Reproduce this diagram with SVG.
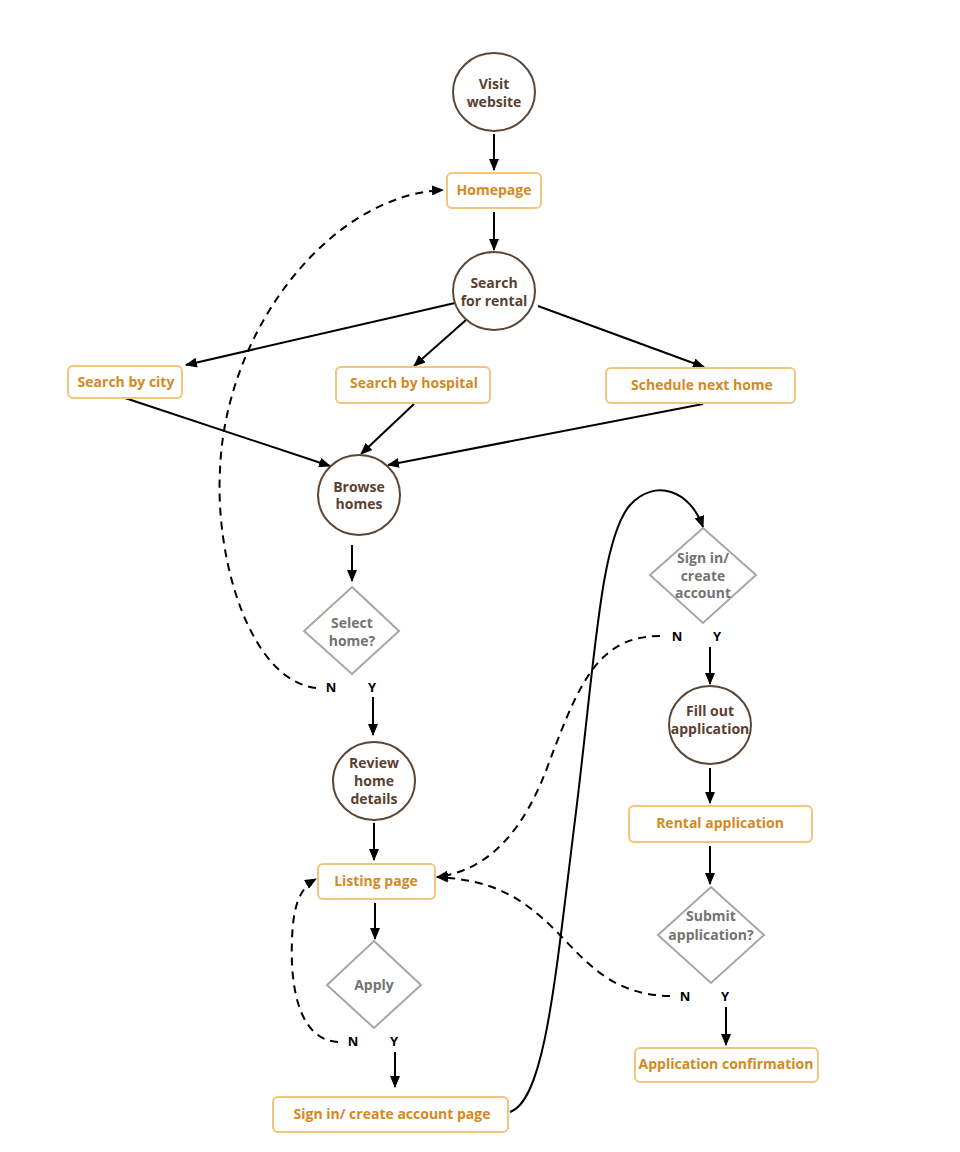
<svg xmlns="http://www.w3.org/2000/svg" width="960" height="1152" viewBox="0 0 960 1152">
<defs>
<marker id="arr" viewBox="0 0 12 10" refX="11" refY="5" markerWidth="12" markerHeight="10" markerUnits="userSpaceOnUse" orient="auto">
<path d="M0,0 L12,5 L0,10 z" fill="#000"/>
</marker>
<style>
.c{fill:#fff;stroke:#5b4636;stroke-width:2}
.ct{fill:#5b4030;font-family:"Open Sans",Roboto,"Liberation Sans",sans-serif;font-weight:bold;font-size:14px;text-anchor:middle;dominant-baseline:central}
.b{fill:#fff;stroke:#f3c47c;stroke-width:2}
.bt{fill:#d4891f;font-family:"Open Sans",Roboto,"Liberation Sans",sans-serif;font-weight:bold;font-size:14px;text-anchor:middle;dominant-baseline:central}
.d{fill:#fff;stroke:#a6a6a6;stroke-width:2}
.dt{fill:#737373;font-family:"Open Sans",Roboto,"Liberation Sans",sans-serif;font-weight:bold;font-size:14px;text-anchor:middle;dominant-baseline:central}
.l{fill:#000;font-family:"Open Sans",Roboto,"Liberation Sans",sans-serif;font-weight:bold;font-size:13px;text-anchor:middle;dominant-baseline:central}
.e{fill:none;stroke:#000;stroke-width:2;marker-end:url(#arr)}
.dash{stroke-dasharray:8 6}
text{transform:translateY(-1px)}
</style>
</defs>
<rect width="960" height="1152" fill="#fff"/>

<g id="connectors">
<line class="e" x1="494" y1="134" x2="494" y2="170"/>
<line class="e" x1="494" y1="212" x2="494" y2="250"/>
<line class="e" x1="455" y1="303" x2="186" y2="365"/>
<line class="e" x1="466" y1="320" x2="414" y2="366"/>
<line class="e" x1="538" y1="306" x2="704" y2="367"/>
<line class="e" x1="125" y1="398" x2="330" y2="466"/>
<line class="e" x1="414" y1="404" x2="361" y2="454"/>
<line class="e" x1="703" y1="404" x2="388" y2="465"/>
<line class="e" x1="352" y1="545" x2="352" y2="581"/>
<line class="e" x1="373" y1="697" x2="373" y2="735"/>
<line class="e" x1="374" y1="823" x2="374" y2="860"/>
<line class="e" x1="375" y1="903" x2="375" y2="939"/>
<line class="e" x1="395" y1="1052" x2="395" y2="1087"/>
<line class="e" x1="710" y1="647" x2="710" y2="684"/>
<line class="e" x1="710" y1="768" x2="710" y2="803"/>
<line class="e" x1="710" y1="846" x2="710" y2="884"/>
<line class="e" x1="726" y1="1007" x2="726" y2="1045"/>
<path class="e dash" d="M316,688 C250,680 215,560 220,470 C225,330 330,195 443,190"/>
<path class="e dash" d="M338,1042 C300,1040 290,990 292,940 C293,905 300,888 316,879"/>
<path class="e dash" d="M660,636 C600,636 580,680 550,760 C525,830 490,870 437,877"/>
<path class="e dash" d="M670,996 C610,995 585,960 555,930 C520,895 490,880 437,877"/>
<path class="e" d="M510,1112 C545,1100 555,980 575,820 C595,660 600,540 630,505 C655,478 690,490 703,527"/>
</g>

<g id="visit"><ellipse class="c" cx="494" cy="92" rx="41" ry="39"/><text class="ct" x="494" y="84">Visit</text><text class="ct" x="494" y="102">website</text></g>
<g id="homepage"><rect class="b" x="447" y="173" width="94" height="35" rx="5"/><text class="bt" x="494" y="190">Homepage</text></g>
<g id="search"><ellipse class="c" cx="494" cy="291" rx="41" ry="39"/><text class="ct" x="494" y="283">Search</text><text class="ct" x="494" y="301">for rental</text></g>
<g id="city"><rect class="b" x="68" y="366" width="114" height="32" rx="5"/><text class="bt" x="126" y="382">Search by city</text></g>
<g id="hospital"><rect class="b" x="336" y="367" width="154" height="36" rx="5"/><text class="bt" x="414" y="383">Search by hospital</text></g>
<g id="schedule"><rect class="b" x="606" y="368" width="189" height="35" rx="5"/><text class="bt" x="702" y="385">Schedule next home</text></g>
<g id="browse"><ellipse class="c" cx="359" cy="495" rx="41" ry="40"/><text class="ct" x="359" y="487">Browse</text><text class="ct" x="359" y="504">homes</text></g>
<g id="select"><polygon class="d" points="352,587 399,631 352,674 304,631"/><text class="dt" x="352" y="623">Select</text><text class="dt" x="352" y="641">home?</text></g>
<g id="selectN"><text class="l" x="331" y="688">N</text></g>
<g id="selectY"><text class="l" x="372" y="688">Y</text></g>
<g id="review"><ellipse class="c" cx="374" cy="781" rx="41" ry="39"/><text class="ct" x="374" y="763">Review</text><text class="ct" x="374" y="781">home</text><text class="ct" x="374" y="799">details</text></g>
<g id="listing"><rect class="b" x="318" y="864" width="117" height="35" rx="5"/><text class="bt" x="376" y="881">Listing page</text></g>
<g id="apply"><polygon class="d" points="374,941 421,985 374,1028 327,985"/><text class="dt" x="374" y="985">Apply</text></g>
<g id="applyN"><text class="l" x="353" y="1042">N</text></g>
<g id="applyY"><text class="l" x="394" y="1042">Y</text></g>
<g id="signinpage"><rect class="b" x="273" y="1097" width="235" height="35" rx="5"/><text class="bt" x="392" y="1114">Sign in/ create account page</text></g>
<g id="signin"><polygon class="d" points="703,528 756,575 703,623 650,575"/><text class="dt" x="703" y="558">Sign in/</text><text class="dt" x="703" y="576">create</text><text class="dt" x="703" y="593">account</text></g>
<g id="signinN"><text class="l" x="677" y="637">N</text></g>
<g id="signinY"><text class="l" x="717" y="637">Y</text></g>
<g id="fill"><ellipse class="c" cx="710" cy="725" rx="41" ry="39"/><text class="ct" x="710" y="711">Fill out</text><text class="ct" x="710" y="729">application</text></g>
<g id="rental"><rect class="b" x="629" y="806" width="183" height="36" rx="5"/><text class="bt" x="720" y="823">Rental application</text></g>
<g id="submit"><polygon class="d" points="711,887 764,935 711,983 658,935"/><text class="dt" x="711" y="916">Submit</text><text class="dt" x="711" y="935">application?</text></g>
<g id="submitN"><text class="l" x="685" y="997">N</text></g>
<g id="submitY"><text class="l" x="725" y="997">Y</text></g>
<g id="confirm"><rect class="b" x="635" y="1048" width="183" height="34" rx="5"/><text class="bt" x="726" y="1064">Application confirmation</text></g>
</svg>
